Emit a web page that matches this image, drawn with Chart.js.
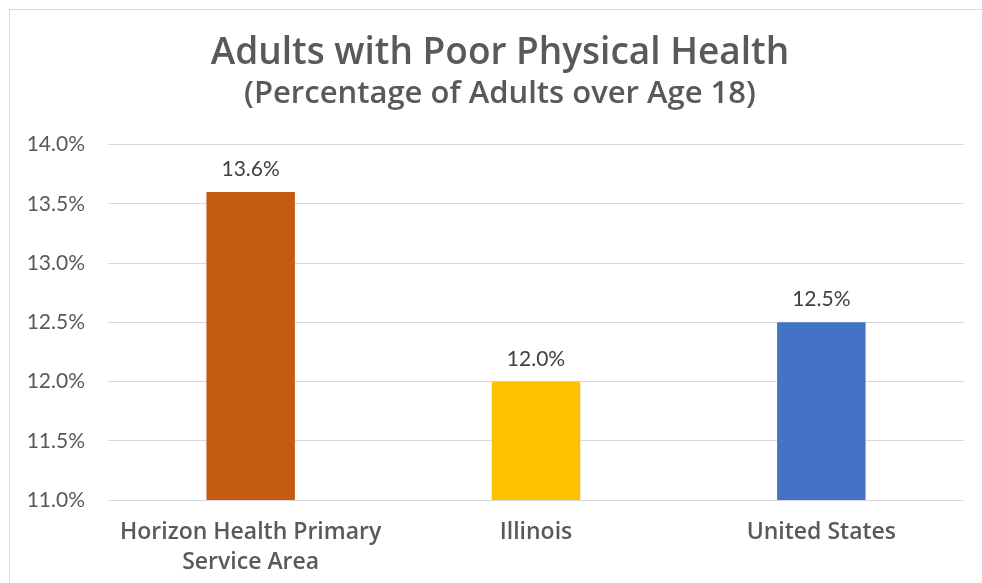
<!DOCTYPE html>
<html>
<head>
<meta charset="utf-8">
<script src="https://cdn.jsdelivr.net/npm/chart.js@4/dist/chart.umd.min.js"></script>
<style>
    body { margin: 0; background: #ffffff; overflow: hidden; }
    .frame {
        position: absolute; left: 9px; top: 9px; width: 1000px; height: 600px;
        border-top: 1px solid #d9d9d9; border-left: 1px solid #d9d9d9;
    }
    .container { position: absolute; left: 0; top: 0; width: 982px; height: 583px; }
</style>
</head>
<body>
<div class="frame"></div>
<div class="container"><canvas id="graph1" width="982" height="583"></canvas></div>
<script>
// Chart data
let categories = [["Horizon Health Primary", "Service Area"], "Illinois", "United States"];
let percentages = [13.6, 12.0, 12.5];
let barColours = ["#C55A11", "#FFC000", "#4472C4"];
let yTicks = [11.0, 11.5, 12.0, 12.5, 13.0, 13.5, 14.0];

let fontName = "Open Sans";
let numberFont = "Lato";

// Draws the value above each bar
let valueLabels = {
    id: "valueLabels",
    afterDatasetsDraw(chart) {
        let ctx = chart.ctx;
        let meta = chart.getDatasetMeta(0);
        ctx.save();
        ctx.font = "21px " + numberFont;
        ctx.fillStyle = "#404040";
        ctx.textAlign = "center";
        ctx.textBaseline = "alphabetic";
        meta.data.forEach(function (bar, i) {
            ctx.fillText(percentages[i].toFixed(1) + "%", bar.x, bar.y - 16);
        });
        ctx.restore();
    }
};

// The original centres its titles on the whole frame, not on the chart width
let titleShift = {
    id: "titleShift",
    afterLayout(chart) {
        chart.boxes.forEach(function (box) {
            if (box.options && box.options.text !== undefined) {
                box.left = 36;
            }
        });
    }
};

let ctx = document.getElementById("graph1");
let chart = new Chart(ctx, {
    type: "bar",
    data: {
        labels: categories,
        datasets: [{
            data: percentages,
            backgroundColor: barColours,
            categoryPercentage: 0.31,
            barPercentage: 1.0
        }]
    },
    options: {
        responsive: false,
        animation: false,
        layout: { padding: { left: 0, right: 18, top: 0, bottom: 0 } },
        plugins: {
            legend: { display: false },
            tooltip: { enabled: false },
            title: {
                display: true,
                text: "Adults with Poor Physical Health",
                color: "#595959",
                font: { family: fontName, size: 37, weight: "600" },
                padding: { top: 31, bottom: 0 }
            },
            subtitle: {
                display: true,
                text: "(Percentage of Adults over Age 18)",
                color: "#595959",
                font: { family: fontName, size: 31, weight: "600" },
                padding: { top: 0, bottom: 32 }
            }
        },
        scales: {
            x: {
                grid: { display: false },
                border: { display: false },
                ticks: {
                    color: "#595959",
                    font: { family: fontName, size: 23, weight: "600", lineHeight: 1.3 },
                    maxRotation: 0,
                    padding: 10
                },
                afterFit(scale) { scale.height = 83; }
            },
            y: {
                min: 11,
                max: 14,
                afterBuildTicks(scale) {
                    scale.ticks = yTicks.map(function (v) { return { value: v }; });
                },
                grid: { color: "#d9d9d9", lineWidth: 1, drawTicks: false },
                border: { display: false },
                ticks: {
                    color: "#595959",
                    font: { family: numberFont, size: 21 },
                    padding: 23,
                    callback: function (value) { return value.toFixed(1) + "%"; }
                },
                afterFit(scale) { scale.width = 108; }
            }
        }
    },
    plugins: [valueLabels, titleShift]
});
</script>
</body>
</html>
